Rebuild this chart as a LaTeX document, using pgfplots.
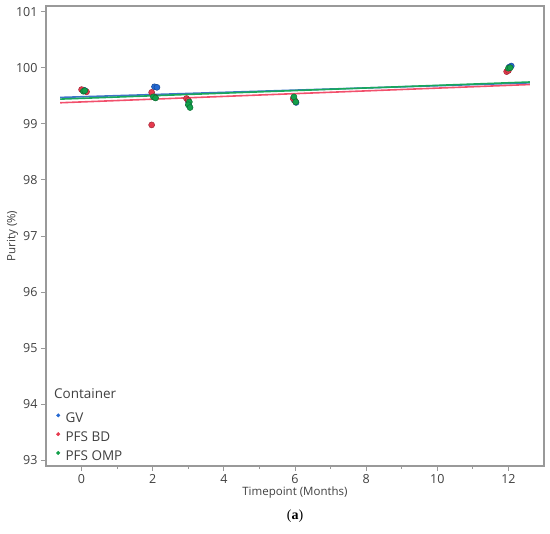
\documentclass[border=0pt]{standalone}
\usepackage{pgfplots}
\pgfplotsset{compat=1.18}
\usepackage{fontspec}
\setmainfont{Open Sans}
\newfontfamily\serifa{Liberation Serif}
\definecolor{cgv}{HTML}{2468D2}
\definecolor{cbd}{HTML}{E63A4E}
\definecolor{comp}{HTML}{13A04A}
\definecolor{lgv}{HTML}{3F74C8}
\definecolor{lbd}{HTML}{F2506C}
\definecolor{lomp}{HTML}{18A85C}
\definecolor{axgray}{HTML}{999999}
\definecolor{txt}{HTML}{404040}
\begin{document}
\begin{tikzpicture}[x=1pt,y=1pt]
\useasboundingbox (0,0) rectangle (550,534);
\begin{axis}[
  at={(46pt,68pt)}, anchor=south west,
  scale only axis, width=498pt, height=460pt,
  xmin=-1, xmax=13, ymin=92.9, ymax=101.1,
  xtick={0,2,...,12}, minor xtick={1,3,...,11},
  ytick={93,...,101},
  tick align=outside, tick pos=left,
  major tick length=5pt, minor tick length=3pt,
  axis line style={axgray, line width=1.2pt},
  every tick/.style={axgray, line width=0.8pt},
  tick label style={font=\fontsize{12.5}{14}\selectfont, text=txt},
  /pgf/number format/assume math mode=true,
  xlabel={Timepoint (Months)}, ylabel={Purity (\%)},
  label style={font=\fontsize{11.5}{13}\selectfont, text=txt},
  xlabel style={yshift=4pt},
  ylabel style={yshift=-9pt},
  legend style={at={(rel axis cs:0.012,0.0)}, anchor=south west, draw=none, fill=none,
    font=\fontsize{13.5}{15}\selectfont, text=txt, row sep=3.5pt,
    /tikz/every even column/.style={column sep=0pt}},
  legend cell align=left,
  legend image code/.code={\path (0,0) (0.28cm,0); \fill[#1] (0.1cm,0.6ex) circle (1.8pt);},
  clip=false,
]
% regression lines
\addplot[lgv, line width=1.6pt, forget plot] coordinates {(-0.6,99.47) (12.6,99.73)};
\addplot[lbd, line width=1.6pt, forget plot] coordinates {(-0.6,99.375) (12.6,99.70)};
\addplot[lomp, line width=1.6pt, forget plot] coordinates {(-0.6,99.44) (12.6,99.745)};
% points
\addplot[only marks, mark=*, mark size=3pt, mark options={fill=cgv, draw=cgv!70!black, line width=0.5pt}, forget plot]
 coordinates {(0.05,99.60) (0.10,99.59) (2.05,99.66) (2.12,99.65) (2.05,99.48) (3.0,99.40) (3.02,99.33) (5.98,99.42) (6.03,99.38) (12.08,100.03) (12.02,100.01)};
\addplot[only marks, mark=*, mark size=3pt, mark options={fill=cbd, draw=cbd!70!black, line width=0.5pt}, forget plot]
 coordinates {(0.0,99.61) (0.14,99.57) (1.97,99.56) (1.97,98.98) (2.07,99.47) (2.95,99.45) (3.0,99.42) (5.95,99.45) (6.0,99.41) (11.95,99.93) (12.0,99.95)};
\addplot[only marks, mark=*, mark size=3pt, mark options={fill=comp, draw=comp!70!black, line width=0.5pt}, forget plot]
 coordinates {(0.05,99.58) (0.09,99.59) (2.02,99.48) (2.08,99.46) (3.03,99.39) (3.0,99.34) (3.05,99.29) (5.97,99.48) (6.02,99.39) (12.0,99.99) (12.05,100.00)};
\addlegendimage{cgv}\addlegendentry{GV}
\addlegendimage{cbd}\addlegendentry{PFS BD}
\addlegendimage{comp}\addlegendentry{PFS OMP}
\node[anchor=base west, font=\fontsize{13.5}{15}\selectfont, text=txt, inner sep=0pt] at (rel axis cs:0.016,0.146) {Container};
\end{axis}
\node[font=\serifa\fontsize{14}{16}\selectfont] at (295,18) {(\textbf{a})};
\end{tikzpicture}
\end{document}
